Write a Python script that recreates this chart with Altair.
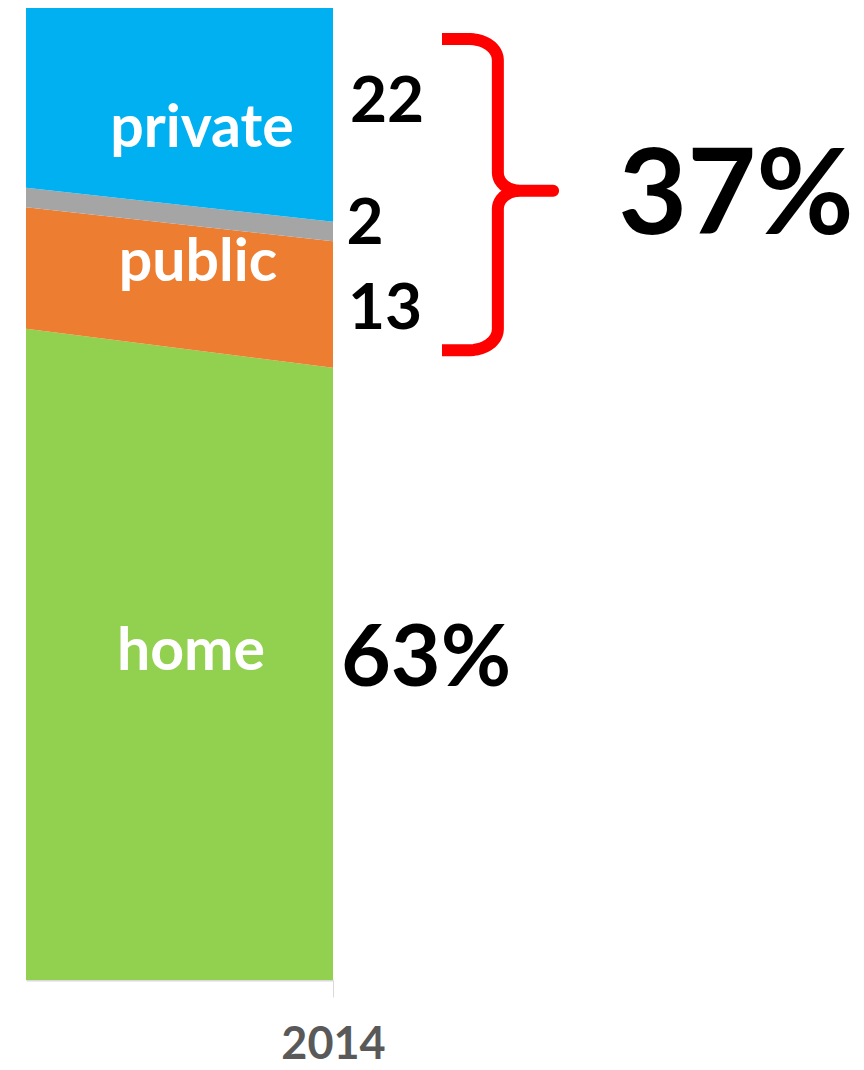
import altair as alt
import pandas as pd
import numpy as np

# ---- data ----
years = [2013, 2014]
categories = ["home", "public", "other", "private"]
home = [67, 63]
public = [12.5, 13]
other = [2, 2]
private = [18.5, 22]
colors = ["#92D050", "#ED7D31", "#A5A5A5", "#00B0F0"]

series = {"home": home, "public": public, "other": other, "private": private}
rows = []
for i, c in enumerate(categories):
    for j, y in enumerate(years):
        rows.append({"year": y, "category": c, "value": series[c][j], "order": i})
df = pd.DataFrame(rows)

FONT = "Lato"
W, H = 307, 972

xscale = alt.Scale(domain=[2013, 2014], nice=False, zero=False)
yscale = alt.Scale(domain=[0, 100], nice=False)

area = alt.Chart(df).mark_area(opacity=1).encode(
    x=alt.X("year:Q", scale=xscale, title=None,
            axis=alt.Axis(values=[2014], format="d", grid=False,
                          domainColor="#D9D9D9", domainWidth=2,
                          tickColor="#D9D9D9", tickSize=17, tickWidth=1,
                          labelFont=FONT, labelFontSize=45, labelFontWeight="bold",
                          labelColor="#595959", labelPadding=61,
                          labelFlush=False, labelBound=False, labelOverlap=False,
                          labelAlign="center", labelBaseline="alphabetic")),
    y=alt.Y("value:Q", stack="zero", scale=yscale, axis=None),
    color=alt.Color("category:N", scale=alt.Scale(domain=categories, range=colors), legend=None),
    order=alt.Order("order:Q"),
)

# ---- brace annotation (in data units: years horizontally, percent vertically) ----
def brace_points(x_left, x_spine, x_tip, v_top, v_bot, v_mid, px_per_year=W, px_per_pct=H / 100):
    def to_data(px, py):
        return 2013 + px / px_per_year, 100 - py / px_per_pct
    xl = (x_left - 2013) * px_per_year
    xs = (x_spine - 2013) * px_per_year
    xt = (x_tip - 2013) * px_per_year
    yt = (100 - v_top) * px_per_pct
    yb = (100 - v_bot) * px_per_pct
    ym = (100 - v_mid) * px_per_pct
    pts = [(xl, yt)]
    r1x, r1y = 28, 21
    for t in np.linspace(-np.pi / 2, 0, 12):
        pts.append((xs - r1x + r1x * np.cos(t), yt + r1y + r1y * np.sin(t)))
    r2x, r2y = 22, 18
    for t in np.linspace(np.pi, np.pi / 2, 12):
        pts.append((xs + r2x + r2x * np.cos(t), ym - r2y + r2y * np.sin(t)))
    pts.append((xt, ym))
    for t in np.linspace(-np.pi / 2, -np.pi, 12):
        pts.append((xs + r2x + r2x * np.cos(t), ym + r2y + r2y * np.sin(t)))
    for t in np.linspace(0, np.pi / 2, 12):
        pts.append((xs - r1x + r1x * np.cos(t), yb - r1y + r1y * np.sin(t)))
    pts.append((xl, yb))
    out = []
    for k, (px, py) in enumerate(pts):
        dx, dy = to_data(px, py)
        out.append({"bx": dx, "by": dy, "k": k})
    return pd.DataFrame(out)

brace_df = brace_points(2014.355, 2014.537, 2014.717, 96.8, 64.8, 81.2)
brace = alt.Chart(brace_df).mark_line(color="#FF0000", strokeWidth=12,
                                       strokeJoin="round", strokeCap="butt").encode(
    x=alt.X("bx:Q", scale=xscale),
    y=alt.Y("by:Q", scale=yscale),
    order="k:Q",
)

def label(text, x, y, size, color):
    return alt.Chart(pd.DataFrame({"t": [text]})).mark_text(
        font=FONT, fontWeight="bold", fontSize=size, color=color,
        align="center", baseline="alphabetic").encode(
        text="t:N", x=alt.value(x), y=alt.value(y))

labels = [
    label("private", 176, 139, 59, "white"),
    label("public", 172, 273, 59, "white"),
    label("home", 165, 662, 59, "white"),
    label("22", 361, 114, 64, "black"),
    label("2", 339, 236, 64, "black"),
    label("13", 359, 321, 64, "black"),
    label("63%", 400, 678, 86, "black"),
    label("37%", 710, 226, 119, "black"),
]

chart = alt.layer(area, brace, *labels).properties(
    width=W, height=H,
    autosize=alt.AutoSizeParams(type="none"),
    padding={"left": 18, "top": 0, "right": 523, "bottom": 90},
).configure_view(stroke=None)

chart.save("out.html", embed_options={"renderer": "svg", "actions": False})
